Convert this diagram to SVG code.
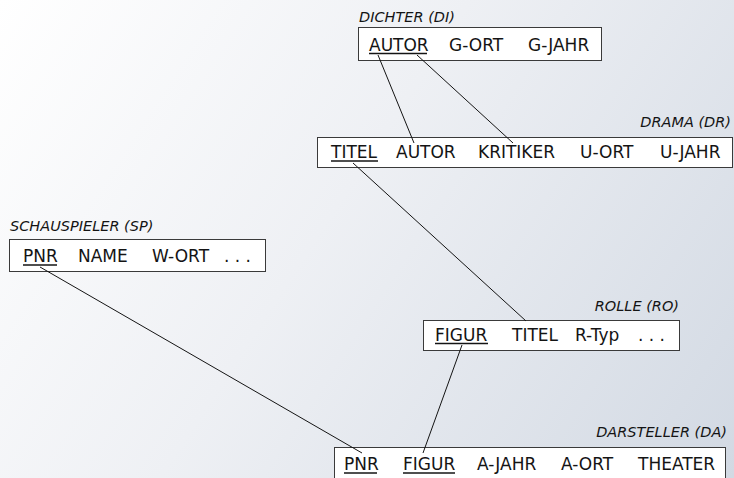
<svg xmlns="http://www.w3.org/2000/svg" width="734" height="478" viewBox="0 0 734 478">
  <defs>
    <linearGradient id="bg" gradientUnits="userSpaceOnUse" x1="0" y1="0" x2="734" y2="478">
      <stop offset="0" stop-color="#ffffff"/>
      <stop offset="0.45" stop-color="#eef0f4"/>
      <stop offset="1" stop-color="#d2d9e3"/>
    </linearGradient>
    <style>
      .box { fill: #ffffff; stroke: #3a3a3a; stroke-width: 1; }
      .fld { font-family: "DejaVu Sans", Verdana, sans-serif; font-size: 17px; fill: #141414; }
      .lbl { font-family: "DejaVu Sans", Verdana, sans-serif; font-size: 14.5px; font-style: italic; fill: #141414; }
      .end { text-anchor: end; }
      .key { stroke: #141414; stroke-width: 1.5; fill: none; }
      .link { stroke: #141414; stroke-width: 1; fill: none; }
    </style>
  </defs>

  <rect x="0" y="0" width="734" height="478" fill="url(#bg)"/>

  <!-- DICHTER -->
  <g id="dichter">
    <text class="lbl" x="359" y="22">DICHTER (DI)</text>
    <rect class="box" x="358.5" y="27.5" width="243" height="33"/>
    <text class="fld" x="369" y="51">AUTOR</text>
    <text class="fld" x="449" y="51">G-ORT</text>
    <text class="fld" x="528" y="51">G-JAHR</text>
    <line class="key" x1="369" y1="53.5" x2="427" y2="53.5"/>
  </g>

  <!-- DRAMA -->
  <g id="drama">
    <text class="lbl end" x="731" y="127">DRAMA (DR)</text>
    <rect class="box" x="317.5" y="137.5" width="415" height="30"/>
    <text class="fld" x="331" y="158">TITEL</text>
    <text class="fld" x="396" y="158">AUTOR</text>
    <text class="fld" x="478" y="158">KRITIKER</text>
    <text class="fld" x="580" y="158">U-ORT</text>
    <text class="fld" x="660" y="158">U-JAHR</text>
    <line class="key" x1="331" y1="161" x2="378" y2="161"/>
  </g>

  <!-- SCHAUSPIELER -->
  <g id="schauspieler">
    <text class="lbl" x="10" y="231">SCHAUSPIELER (SP)</text>
    <rect class="box" x="9.5" y="239.5" width="256" height="32"/>
    <text class="fld" x="23" y="262">PNR</text>
    <text class="fld" x="78" y="262">NAME</text>
    <text class="fld" x="152" y="262">W-ORT</text>
    <text class="fld" x="224" y="262">. . .</text>
    <line class="key" x1="23" y1="265" x2="57" y2="265"/>
  </g>

  <!-- ROLLE -->
  <g id="rolle">
    <text class="lbl end" x="679" y="311">ROLLE (RO)</text>
    <rect class="box" x="423.5" y="320.5" width="256" height="30"/>
    <text class="fld" x="435" y="341">FIGUR</text>
    <text class="fld" x="512" y="341">TITEL</text>
    <text class="fld" x="575" y="341">R-Typ</text>
    <text class="fld" x="638" y="341">. . .</text>
    <line class="key" x1="435" y1="343.5" x2="488" y2="343.5"/>
  </g>

  <!-- DARSTELLER -->
  <g id="darsteller">
    <text class="lbl end" x="727" y="437">DARSTELLER (DA)</text>
    <rect class="box" x="334.5" y="447.5" width="391" height="40"/>
    <text class="fld" x="344" y="470">PNR</text>
    <text class="fld" x="403" y="470">FIGUR</text>
    <text class="fld" x="477" y="470">A-JAHR</text>
    <text class="fld" x="561" y="470">A-ORT</text>
    <text class="fld" x="638" y="470">THEATER</text>
    <line class="key" x1="344" y1="473" x2="377" y2="473"/>
    <line class="key" x1="403" y1="473" x2="455" y2="473"/>
  </g>

  <!-- key references -->
  <g id="connectors">
    <line class="link" x1="378" y1="55" x2="414" y2="143"/>
    <line class="link" x1="417" y1="55" x2="513" y2="143"/>
    <line class="link" x1="353" y1="163" x2="526" y2="321"/>
    <line class="link" x1="40" y1="267" x2="362" y2="453"/>
    <line class="link" x1="462" y1="345" x2="423" y2="453"/>
  </g>
</svg>
